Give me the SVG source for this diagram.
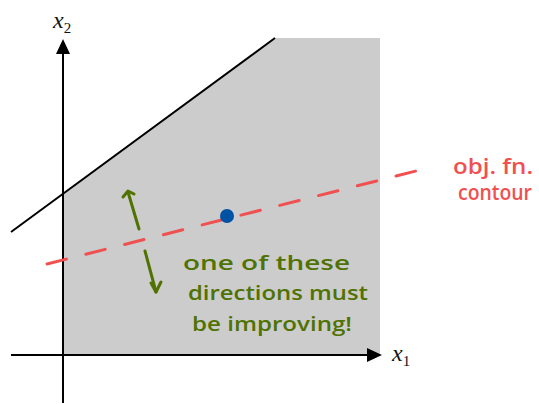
<svg xmlns="http://www.w3.org/2000/svg" width="539" height="404" viewBox="0 0 539 404">
<style>
.ax{stroke:#000;stroke-width:2;fill:none}
.math{font-family:"Liberation Serif",serif;font-style:italic;font-size:24px;fill:#111}
.sub{font-family:"Liberation Serif",serif;font-style:normal;font-size:15px;fill:#111}
.note{font-family:"Open Sans","Liberation Sans",sans-serif;font-size:20px;fill:#4f7200;font-weight:600}
.red{font-family:"Open Sans","Liberation Sans",sans-serif;font-size:21px;fill:#f05050;font-weight:600}
.grn{stroke:#4f7200;stroke-width:3;fill:none;stroke-linecap:round;stroke-linejoin:round}
</style>
<g id="region">
<polygon points="63,193 275,38 380,38 380,355 63,355" fill="#cccccc"/>
</g>
<g id="connectors">
<line class="ax" x1="63" y1="403" x2="63" y2="52"/>
<path d="M63,39 l-7,15 h14 z" fill="#000"/>
<line class="ax" x1="11" y1="355" x2="369" y2="355"/>
<path d="M382,355 l-15,-7 v14 z" fill="#000"/>
<line class="ax" x1="11" y1="232" x2="275" y2="38"/>
<line x1="47" y1="264" x2="432" y2="167" stroke="#f05050" stroke-width="3" stroke-dasharray="20 20" stroke-linecap="round" fill="none"/>
<path class="grn" d="M139,229 L128,192"/>
<path class="grn" d="M123,197 L128,191 L134,194"/>
<path class="grn" d="M145,251 L156,292"/>
<path class="grn" d="M151,283 L156,292 L161,282"/>
</g>
<g id="point"><circle cx="227" cy="216" r="7" fill="#0052a4"/></g>
<g id="labels">
<text class="math" x="53" y="28">x<tspan class="sub" dy="5">2</tspan></text>
<text class="math" x="392" y="361">x<tspan class="sub" dy="5">1</tspan></text>
<text class="note" x="183" y="270" textLength="167" lengthAdjust="spacingAndGlyphs">one of these</text>
<text class="note" x="188" y="300" textLength="180" lengthAdjust="spacingAndGlyphs">directions must</text>
<text class="note" x="192" y="331" textLength="160" lengthAdjust="spacingAndGlyphs">be improving!</text>
<text class="red" x="453" y="174" textLength="80" lengthAdjust="spacingAndGlyphs">obj. fn.</text>
<text class="red" x="458" y="200" textLength="74" lengthAdjust="spacingAndGlyphs">contour</text>
</g>
</svg>
